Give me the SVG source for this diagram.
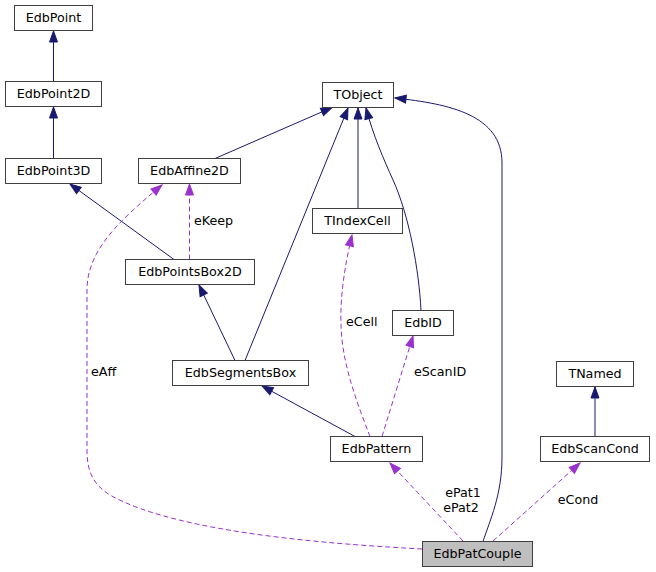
<svg xmlns="http://www.w3.org/2000/svg" width="656" height="572" viewBox="0 0 656 572">
<style>
  .node rect { fill: #ffffff; stroke: #404040; stroke-width: 1; }
  .node.focus rect { fill: #bfbfbf; }
  .node text { font-family: "DejaVu Sans", Verdana, sans-serif; font-size: 12.7px; fill: #000000; text-anchor: middle; }
  .inh { fill: none; stroke: #191970; stroke-width: 1; marker-end: url(#navyArrow); }
  .use { fill: none; stroke: #9a32cd; stroke-width: 1; stroke-dasharray: 5,3; marker-end: url(#purpleArrow); }
  .lbl { font-family: "DejaVu Sans", Verdana, sans-serif; font-size: 12.7px; fill: #000000; }
</style>
<defs>
  <marker id="navyArrow" markerUnits="userSpaceOnUse" markerWidth="14" markerHeight="12" refX="11" refY="4" orient="auto" overflow="visible">
    <path d="M0,0 L11,4 L0,8 z" fill="#191970" stroke="#191970" stroke-width="1"/>
  </marker>
  <marker id="purpleArrow" markerUnits="userSpaceOnUse" markerWidth="14" markerHeight="12" refX="11" refY="4" orient="auto" overflow="visible">
    <path d="M0,0 L11,4 L0,8 z" fill="#9a32cd" stroke="#9a32cd" stroke-width="1" stroke-dasharray="none"/>
  </marker>
</defs>
<rect width="656" height="572" fill="#ffffff"/>
<g id="edges">
  <path class="inh" d="M53.5,81.5 L53.5,31"/>
  <path class="inh" d="M53.5,158.5 L53.5,107"/>
  <path class="inh" d="M174,259.5 L70,184"/>
  <path class="inh" d="M215,158.5 L332,107.5"/>
  <path class="inh" d="M245,360.5 L348,108"/>
  <path class="inh" d="M358,208.5 L358,108"/>
  <path class="inh" d="M421,310.5 C419,270 409,215 393,180 C384,160 373,135 366,108"/>
  <path class="inh" d="M235,360.5 L199,285"/>
  <path class="inh" d="M355,436.5 L262,386"/>
  <path class="inh" d="M483,541.5 C490,520 502,495 502,457 L502,163 C502,115 450,104 395,98"/>
  <path class="inh" d="M595,436.5 L595,387"/>
  <path class="use" d="M189.5,259.5 L189.5,184"/>
  <path class="use" d="M370,436.5 C358,405 342,365 341,325 C340,295 345,265 352,235"/>
  <path class="use" d="M382,436.5 L413,336"/>
  <path class="use" d="M463,541 L390,463"/>
  <path class="use" d="M493,541 L580,463"/>
  <path class="use" d="M422,549 C350,545 180,535 110,495 C92,484 87,470 87,450 L87,290 C87,250 120,220 162,185"/>
  <text class="lbl" x="194" y="225">eKeep</text>
  <text class="lbl" x="346" y="326">eCell</text>
  <text class="lbl" x="414" y="376">eScanID</text>
  <text class="lbl" x="463" y="497" text-anchor="middle">ePat1</text>
  <text class="lbl" x="461" y="512" text-anchor="middle">ePat2</text>
  <text class="lbl" x="578" y="504" text-anchor="middle">eCond</text>
  <text class="lbl" x="91" y="376">eAff</text>
</g>
<g id="EdbPoint" class="node"><rect x="14.5" y="5.5" width="78" height="25"/><text x="53.5" y="22">EdbPoint</text></g>
<g id="EdbPoint2D" class="node"><rect x="5.5" y="81.5" width="96" height="25"/><text x="53.5" y="98">EdbPoint2D</text></g>
<g id="EdbPoint3D" class="node"><rect x="5.5" y="158.5" width="96" height="25"/><text x="53.5" y="175">EdbPoint3D</text></g>
<g id="EdbAffine2D" class="node"><rect x="138.5" y="158.5" width="102" height="25"/><text x="189.5" y="175">EdbAffine2D</text></g>
<g id="TObject" class="node"><rect x="322.5" y="82.5" width="71" height="25"/><text x="358" y="99">TObject</text></g>
<g id="EdbPointsBox2D" class="node"><rect x="125.5" y="259.5" width="129" height="25"/><text x="190" y="276">EdbPointsBox2D</text></g>
<g id="TIndexCell" class="node"><rect x="312.5" y="208.5" width="90" height="25"/><text x="357.5" y="225">TIndexCell</text></g>
<g id="EdbID" class="node"><rect x="392.5" y="310.5" width="61" height="25"/><text x="423" y="327">EdbID</text></g>
<g id="EdbSegmentsBox" class="node"><rect x="172.5" y="360.5" width="136" height="25"/><text x="240.5" y="377">EdbSegmentsBox</text></g>
<g id="EdbPattern" class="node"><rect x="330.5" y="436.5" width="92" height="25"/><text x="376.5" y="453">EdbPattern</text></g>
<g id="TNamed" class="node"><rect x="556.5" y="361.5" width="77" height="25"/><text x="595" y="378">TNamed</text></g>
<g id="EdbScanCond" class="node"><rect x="540.5" y="436.5" width="109" height="25"/><text x="595" y="453">EdbScanCond</text></g>
<g id="EdbPatCouple" class="node focus"><rect x="422.5" y="541.5" width="110" height="25"/><text x="477.5" y="558">EdbPatCouple</text></g>
</svg>
